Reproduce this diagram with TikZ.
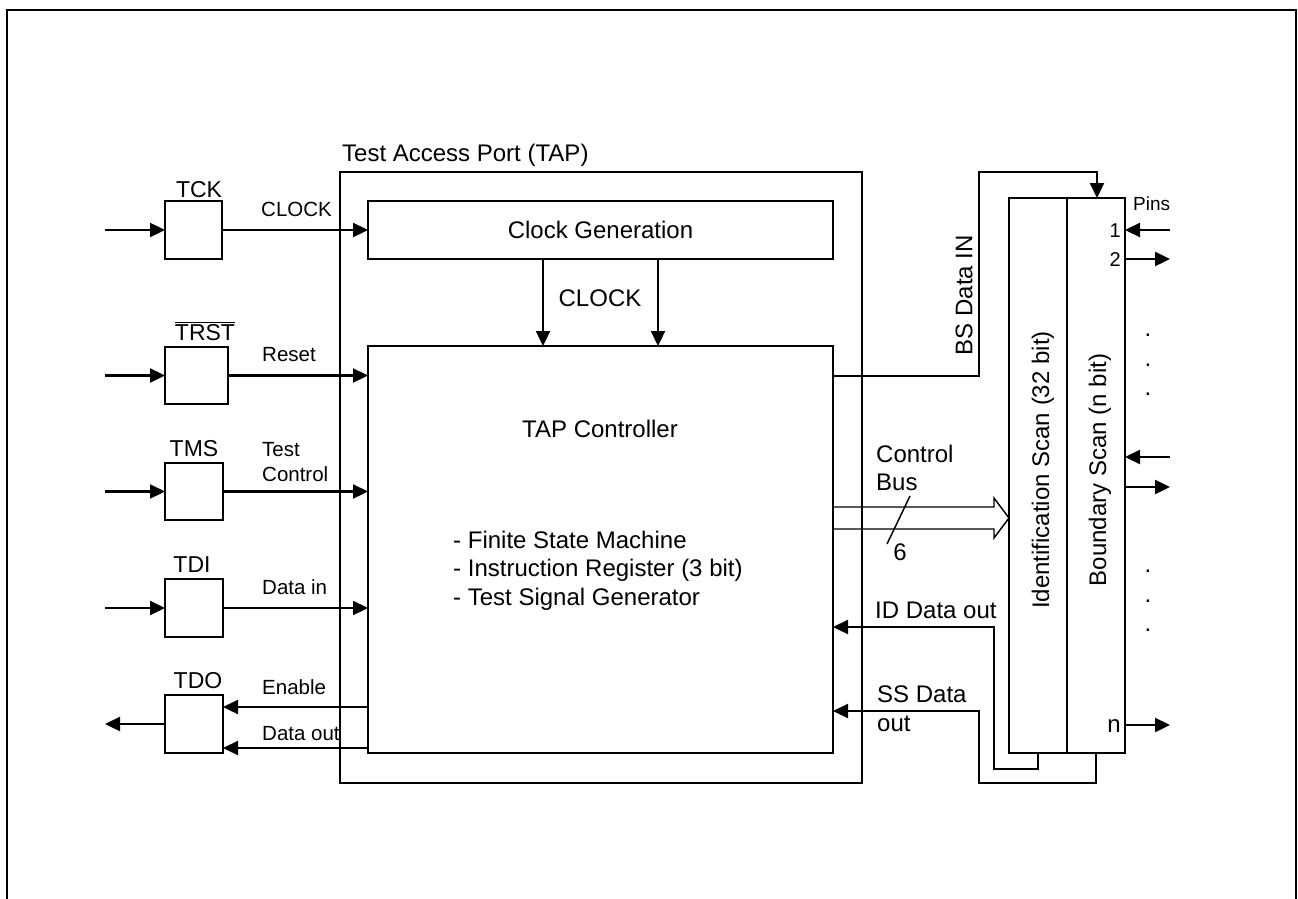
\documentclass[tikz,border=0pt]{standalone}
\usepackage{fontspec}
\setmainfont{Liberation Sans}
\usetikzlibrary{arrows.meta,calc}
\begin{document}
\begin{tikzpicture}[x=1pt,y=-1pt,
  box/.style={draw, line width=1.45pt, inner sep=0pt, outer sep=0pt, anchor=north west},
  sig/.style={line width=2.3pt, -{Triangle[length=15pt,width=14pt]}},
  big/.style={font=\fontsize{24}{28.5}\selectfont, inner sep=0pt},
  small/.style={font=\fontsize{20.5}{25}\selectfont, inner sep=0pt},
  pinlbl/.style={font=\fontsize{23}{27}\selectfont, inner sep=0pt},
  pinno/.style={font=\fontsize{20}{24}\selectfont, inner sep=0pt},
]
\useasboundingbox (0,0) rectangle (1298,899);
% outer frame
\draw[line width=2.4pt] (7,910) -- (7,10) -- (1296,10) -- (1296,910);

% TAP
\node[box, minimum width=522pt, minimum height=611pt] (tap) at (340,172) {};
\node[big, anchor=base west] (taplbl) at (342,161) {Test Access Port (TAP)};
\node[box, big, minimum width=465pt, minimum height=58pt] (cg) at (368,201) {Clock Generation};
\node[box, minimum width=465pt, minimum height=407pt] (tc) at (368,346) {};
\node[big, anchor=base] (tclbl) at (600,437) {TAP Controller};
\node[big, anchor=north west, align=left] (tclist) at (453,530.8) {- Finite State Machine\\- Instruction Register (3 bit)\\- Test Signal Generator};

% clock arrows
\coordinate (c1) at (543,0);
\coordinate (c2) at (658,0);
\draw[sig] (cg.south -| c1) -- (tc.north -| c1);
\draw[sig] (cg.south -| c2) -- (tc.north -| c2);
\node[big] (clk2) at (600,298) {CLOCK};

% pin boxes
\node[box, minimum width=57pt, minimum height=58pt] (tck) at (165,201) {};
\node[box, minimum width=63pt, minimum height=57pt] (trst) at (165,347) {};
\node[box, minimum width=58pt, minimum height=57pt] (tms) at (165,463) {};
\node[box, minimum width=58pt, minimum height=58pt] (tdi) at (165,579) {};
\node[box, minimum width=58pt, minimum height=58pt] (tdo) at (165,695) {};
\node[pinlbl, anchor=base] (ltck) at (199,197) {TCK};
\node[pinlbl, anchor=base] (ltrst) at (205,340) {$\overline{\mbox{TRST}}$};
\node[pinlbl, anchor=base] (ltms) at (194,456) {TMS};
\node[pinlbl, anchor=base] (ltdi) at (192,572) {TDI};
\node[pinlbl, anchor=base] (ltdo) at (198,688) {TDO};

% inputs
\coordinate (inx) at (105,0);
\draw[sig] (tck.west -| inx) -- (tck.west);
\draw[sig] (trst.west -| inx) -- (trst.west);
\draw[sig] (tms.west -| inx) -- (tms.west);
\draw[sig] (tdi.west -| inx) -- (tdi.west);
\draw[sig] (tdo.west) -- (tdo.west -| inx);

% to TAP
\draw[sig] (tck.east) -- (cg.west);
\draw[sig] (trst.east) -- (trst.east -| tc.west);
\draw[sig] (tms.east) -- (tms.east -| tc.west);
\draw[sig] (tdi.east) -- (tdi.east -| tc.west);
\coordinate (en) at (0,707);
\coordinate (dout) at (0,748);
\draw[sig] (en -| tc.west) -- (en -| tdo.east);
\draw[sig] (dout -| tc.west) -- (dout -| tdo.east);

\node[small, anchor=base west] (lclk) at (261,216) {CLOCK};
\node[small, anchor=base west] (lrst) at (262,361) {Reset};
\node[small, anchor=north west, align=left] (ltc) at (262,442.3) {Test\\Control};
\node[small, anchor=base west] (ldin) at (262,594) {Data in};
\node[small, anchor=base west] (len) at (262,694) {Enable};
\node[small, anchor=base west] (ldout) at (262,740) {Data out};

% scan registers
\node[box, minimum width=58pt, minimum height=555pt] (ids) at (1009,198) {};
\node[box, minimum width=58pt, minimum height=555pt] (bs) at (1067,198) {};
\node[big, rotate=90] (lids) at (1043,470) {Identification Scan (32 bit)};
\node[big, rotate=90] (lbs) at (1100,470) {Boundary Scan (n bit)};

% BS data in
\coordinate (bso) at (0,376);
\coordinate (bs1) at (979,172);
\coordinate (bs2) at (1097,172);
\draw[sig] (bso -| tc.east) -- (bso -| bs1) -- (bs1) -- (bs2) -- (bs2 |- bs.north);
\node[big, rotate=90] (lbsin) at (964,295) {BS Data IN};

% control bus
\coordinate (cb) at (0,518);
\draw[line width=1.45pt] ($(cb -| tc.east)+(0,-11)$) -- ++(161,0) -- ++(0,-9) -- (cb -| ids.west) -- ++(-15,20) -- ++(0,-9) -- ($(cb -| tc.east)+(0,11)$);
\coordinate (sl1) at (910,496);
\coordinate (sl2) at (887,544);
\draw[line width=1.45pt] (sl1) -- (sl2);
\node[big] (l6) at (900,552) {6};
\node[big, anchor=north west, align=left] (lcb) at (876,444.8) {Control\\Bus};

% ID data out
\coordinate (id1) at (1038,769);
\coordinate (id2) at (994,627);
\draw[sig] (ids.south) -- (ids.south |- id1) -- (id1 -| id2) -- (id2) -- (id2 -| tc.east);
\node[big, anchor=base west] (lid) at (875,618) {ID Data out};

% SS data out
\coordinate (ss1) at (1097,783);
\coordinate (ss2) at (979,711);
\draw[sig] (bs.south) -- (bs.south |- ss1) -- (ss1 -| ss2) -- (ss2) -- (ss2 -| tc.east);
\node[big, anchor=north west, align=left] (lss) at (877,685.8) {SS Data\\out};

% pins
\node[font=\fontsize{19}{22}\selectfont, inner sep=0pt, anchor=base west] (lpins) at (1133,210) {Pins};
\coordinate (p1) at (1170,230);
\coordinate (p2) at (1170,259);
\coordinate (p3) at (1170,457);
\coordinate (p4) at (1170,487);
\coordinate (pn) at (1170,725);
\draw[sig] (p1) -- (p1 -| bs.east);
\draw[sig] (p2 -| bs.east) -- (p2);
\draw[sig] (p3) -- (p3 -| bs.east);
\draw[sig] (p4 -| bs.east) -- (p4);
\draw[sig] (pn -| bs.east) -- (pn);
\node[pinno, anchor=base east] (l1) at (1121,237) {1};
\node[pinno, anchor=base east] (l2) at (1121,266) {2};
\node[big, anchor=base east] (ln) at (1121,732) {n};
\foreach \yy [count=\i] in {336,366,395,572,602,631}
  \node[big, anchor=base] (dot\i) at (1148,\yy) {.};
\end{tikzpicture}
\end{document}
